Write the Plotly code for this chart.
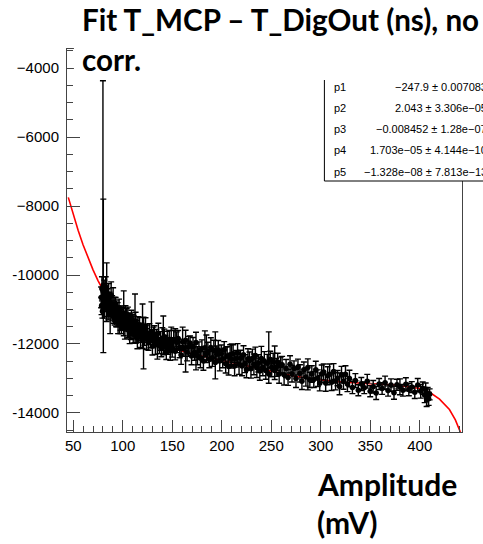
import plotly.graph_objects as go

# ---------------- data ----------------
amp = [
    78.2, 78.6, 79.0, 79.5, 80.0, 80.4, 80.8, 81.3, 81.8, 82.3,
    82.8, 83.3, 83.8, 84.3, 84.8, 85.3, 85.8, 86.3, 86.8, 87.3,
    87.8, 88.3, 88.8, 89.3, 89.8, 90.3, 90.8, 91.3, 91.8, 92.3,
    92.8, 93.3, 93.8, 94.3, 94.8, 95.3, 95.8, 96.3, 96.8, 97.3,
    97.8, 98.3, 98.8, 99.3, 99.8,
    100.4, 101.0, 101.6, 102.2, 102.8, 103.4, 104.0, 104.6, 105.2, 105.8,
    106.4, 107.0, 107.6, 108.2, 108.8, 109.4, 110.0, 110.6, 111.2, 111.8,
    112.4, 113.0, 113.6, 114.2, 114.8, 115.4, 116.0, 117.0, 118.0, 119.0,
    120.0, 121.0, 122.0, 123.0, 124.0, 125.0, 126.0, 127.0, 128.0, 129.0,
    130.0, 131.0, 132.0, 133.0, 134.0, 135.0, 136.0, 137.0, 138.0, 139.0,
    140.0, 141.0, 142.0, 143.0, 144.0, 145.0, 146.0, 147.0, 148.0, 149.0,
    150.0, 151.5, 153.0, 154.5, 156.0, 157.5, 159.0, 160.5, 162.0, 163.5,
    165.0, 166.5, 168.0, 169.5, 171.0, 172.5, 174.0, 175.5, 177.0, 178.5,
    180.0, 181.5, 183.0, 184.5, 186.0, 187.5, 189.0, 190.5, 192.0, 193.5,
    195.0, 196.5, 198.0, 199.5, 201.0, 202.5, 204.0, 205.5, 207.0, 208.5,
    210.0, 211.5, 213.0, 214.5, 216.0, 217.5, 219.0, 220.5, 222.0, 223.5,
    225.0, 226.5, 228.0, 229.5, 231.0, 232.5, 234.0, 235.5, 237.0, 238.5,
    240.0, 241.5, 243.0, 244.5, 246.0, 247.5, 249.0, 250.5, 252.0, 253.5,
    255.0, 256.5, 258.0, 259.5,
    261, 263, 265, 267, 269, 271, 273, 275, 277, 279,
    281, 283, 285, 287, 289, 291, 293, 295, 297, 299,
    301, 303, 305, 307, 309, 311, 313, 315, 317, 319,
    321, 323, 325, 327, 329,
    332, 335, 338, 341, 344, 347, 350, 353, 356, 359,
    362, 365, 368, 371, 374, 377, 380, 383, 386, 389,
    392, 395, 398, 401, 403, 405, 406, 407, 408, 409, 410,
]

dt = [
    -10650, -10900, -10400, -11050, -10450, -10300, -10750, -10550, -10950, -10600,
    -10350, -10800, -10500, -10900, -10700, -11050, -10650, -10950, -10800, -11150,
    -10850, -10600, -11000, -10900, -11100, -10850, -11150, -10950, -11200, -11000,
    -10850, -11250, -11050, -11300, -11100, -11350, -11150, -11000, -11400, -11200,
    -11300, -11100, -11450, -11250, -11350,
    -11180, -11460, -11270, -11560, -11170, -11410, -11290, -11570, -11160, -11510,
    -11400, -11710, -11310, -11530, -11280, -11630, -11440, -11720, -11420, -11560,
    -11720, -11330, -11680, -11540, -11830, -11450, -11690, -11450, -11800, -11650,
    -11900, -11570, -11760, -11480, -11860, -11700, -11960, -11680, -11880, -11640,
    -12060, -11810, -11710, -12020, -11800, -11940, -11690, -12050, -11910, -12130,
    -11830, -12060, -11790, -12010, -12210, -11910, -12070, -11860, -12200, -12000,
    -12100, -11870, -12210, -11950, -11840, -12130, -12320, -11940, -12120, -11890,
    -12230, -12080, -11970, -12350, -12090, -12240, -11960, -12340, -12200, -12410,
    -12130, -12490, -12110, -12290, -12210, -12450, -12100, -12400, -12190, -12540,
    -12300, -12170, -12490, -12280, -12430, -12170, -12570, -12350, -12650, -12310,
    -12440, -12280, -12640, -12430, -12260, -12590, -12410, -12640, -12310, -12570,
    -12740, -12430, -12480, -12720, -12410, -12590, -12330, -12690, -12560, -12780,
    -12420, -12680, -12500, -12770, -12560, -12870, -12450, -12680, -12520, -12770,
    -12680, -12520, -12870, -12620,
    -12600, -12890, -12710, -12970, -12590, -12860, -12710, -13000, -12670, -12850,
    -13080, -12750, -12960, -12680, -13040, -12870, -13030, -12750, -12990, -13140,
    -12860, -12810, -13130, -12920, -12880, -13110, -12800, -13080, -12990, -13230,
    -12890, -13080, -12880, -13160, -13000,
    -13260, -13060, -13340, -13160, -13270, -13080, -13370, -13240, -13420, -13160,
    -13290, -13120, -13350, -13190, -13410, -13180, -13240, -13340, -13170, -13320,
    -13250, -13400, -13190, -13370, -13280, -13480, -13320, -13610, -13440, -13590, -13460,
]

err_up = [
    300, 250, 350, 200, 6080, 2500, 250, 400, 300, 350,
    300, 250, 850, 300, 300, 250, 400, 200, 300, 550,
    300, 400, 250, 300, 200, 480, 250, 300, 250, 350,
    200, 250, 300, 200, 300, 350, 250, 300, 300, 250,
    300, 200, 250, 300, 250,
    250, 1000, 220, 300, 280, 200, 320, 260, 230, 300,
    240, 280, 210, 340, 260, 220, 300, 250, 230, 270,
    1170, 250, 290, 220, 310, 240, 260, 220, 300, 250,
    1060, 350, 280, 240, 300, 250, 220, 270, 230, 860,
    260, 300, 240, 280, 220, 250, 290, 230, 270, 240,
    300, 870, 220, 260, 240, 280, 230, 250, 270, 490,
    280, 260, 650, 300, 230, 270, 270, 430, 240, 290,
    260, 300, 200, 250, 280, 230, 300, 260, 260, 280,
    250, 270, 490, 550, 260, 240, 280, 250, 300, 890,
    240, 270, 290, 250, 260, 240, 480, 270, 250, 290,
    440, 260, 400, 240, 270, 290, 230, 280, 260, 260,
    240, 290, 250, 270, 260, 300, 240, 280, 250, 270,
    350, 240, 280, 250, 260, 1220, 240, 270, 250, 710,
    260, 250, 270, 240,
    240, 220, 260, 230, 250, 240, 220, 260, 230, 250,
    240, 230, 260, 250, 220, 240, 230, 250, 240, 220,
    250, 230, 240, 260, 300, 240, 230, 250, 220, 390,
    240, 230, 250, 220, 240,
    180, 200, 160, 190, 170, 200, 160, 180, 190, 160,
    170, 190, 160, 180, 190, 160, 230, 170, 190, 180,
    160, 180, 190, 200, 180, 220, 190, 200, 180, 190, 160,
]

err_dn = [
    300, 250, 350, 200, 400, 1950, 250, 400, 300, 350,
    300, 250, 850, 300, 300, 250, 400, 200, 300, 550,
    300, 400, 250, 300, 200, 480, 250, 300, 250, 350,
    200, 250, 300, 200, 300, 350, 250, 300, 300, 250,
    300, 200, 250, 300, 250,
    250, 300, 220, 300, 280, 200, 320, 260, 230, 300,
    240, 280, 210, 340, 260, 220, 300, 250, 230, 270,
    250, 250, 290, 220, 310, 240, 260, 220, 300, 250,
    230, 1150, 280, 240, 300, 250, 220, 270, 230, 260,
    260, 300, 240, 280, 220, 500, 290, 230, 270, 240,
    300, 250, 220, 260, 240, 280, 230, 250, 270, 240,
    280, 260, 250, 300, 230, 270, 270, 250, 240, 920,
    260, 280, 300, 250, 280, 230, 790, 260, 240, 280,
    250, 270, 260, 250, 260, 240, 280, 250, 300, 470,
    240, 270, 290, 250, 260, 240, 270, 270, 250, 290,
    260, 260, 280, 240, 270, 290, 230, 280, 260, 260,
    240, 290, 250, 270, 260, 300, 240, 280, 250, 270,
    250, 240, 280, 250, 260, 270, 240, 270, 250, 260,
    260, 250, 270, 240,
    240, 300, 260, 230, 250, 240, 220, 260, 230, 250,
    240, 230, 260, 650, 220, 240, 230, 250, 240, 220,
    250, 230, 240, 260, 230, 240, 230, 250, 220, 240,
    240, 230, 250, 220, 240,
    180, 200, 160, 190, 170, 200, 160, 180, 190, 160,
    170, 190, 160, 180, 190, 160, 230, 170, 190, 180,
    160, 180, 190, 200, 180, 220, 190, 200, 180, 190, 160,
]

# fit curve (pol5)
fit_x = [45, 50, 55, 60, 65, 70, 75, 80, 90, 100, 110, 120, 130, 150, 175,
         200, 225, 250, 275, 300, 325, 350, 375, 400, 410, 420, 430, 436, 441]
fit_y = [-7750, -8240, -8710, -9130, -9510, -9850, -10160, -10430, -10890, -11240,
         -11520, -11730, -11900, -12130, -12320, -12480, -12640, -12800, -12940,
         -13040, -13110, -13150, -13190, -13290, -13400, -13600, -13900, -14200, -14550]

# thin connecting line seen across the band
link_x = [140, 395]
link_y = [-11920, -13400]

x_ticks = [50, 100, 150, 200, 250, 300, 350, 400]
y_ticks = [-14000, -12000, -10000, -8000, -6000, -4000]
y_ticklabels = ["-14000", "-12000", "-10000", "\u22128000", "\u22126000", "\u22124000"]

par_names = ["p1", "p2", "p3", "p4", "p5"]
par_values = ["\u2212247.9 \u00b1 0.007083",
              "2.043 \u00b1 3.306e\u221205",
              "\u22120.008452 \u00b1 1.28e\u221207",
              "1.703e\u221205 \u00b1 4.144e\u221210",
              "\u22121.328e\u221208 \u00b1 7.813e\u221213"]

title_line1 = "Fit T_MCP \u2013 T_DigOut (ns), no"
title_line2 = "corr."
xlabel_line1 = "Amplitude"
xlabel_line2 = "(mV)"

# ---------------- layout geometry ----------------
W, H = 483, 544
L, R, T, B = 63, 21, 49, 112
PW, PH = W - L - R, H - T - B


def px(xp):
    return (xp - L) / PW


def py(yp):
    return (H - B - yp) / PH


fig = go.Figure()

fig.add_trace(go.Scatter(
    x=fit_x, y=fit_y, mode="lines",
    line=dict(color="#ff0000", width=1.6), showlegend=False))

fig.add_trace(go.Scatter(
    x=link_x, y=link_y, mode="lines",
    line=dict(color="#555555", width=1), hoverinfo="skip", showlegend=False))

fig.add_trace(go.Scatter(
    x=amp, y=dt, mode="markers",
    marker=dict(color="black", size=5.5),
    error_y=dict(type="data", symmetric=False, array=err_up, arrayminus=err_dn,
                 color="black", thickness=1.4, width=3),
    error_x=dict(type="constant", value=2.5, color="black", thickness=1.2, width=0),
    showlegend=False))

axis_common = dict(
    showgrid=False, zeroline=False, showline=True, linecolor="#444444", linewidth=1,
    mirror=True, ticks="inside", tickcolor="#444444", tickwidth=1,
    tickfont=dict(family="Liberation Sans, Arial, sans-serif", size=15, color="black"),
)

fig.update_layout(
    width=W, height=H,
    margin=dict(l=L, r=R, t=T, b=B, pad=0),
    paper_bgcolor="white", plot_bgcolor="white",
    xaxis=dict(range=[43.7, 442.7], tickvals=x_ticks, ticklen=12,
               minor=dict(dtick=10, ticklen=6, ticks="inside", tickcolor="#444444"),
               **axis_common),
    yaxis=dict(range=[-14551, -3449], tickvals=y_ticks, ticktext=y_ticklabels, ticklen=13,
               ticklabelstandoff=4,
               minor=dict(dtick=500, ticklen=6, ticks="inside", tickcolor="#444444"),
               **axis_common),
)

shapes = []
# stats box
shapes.append(dict(type="rect", xref="paper", yref="paper",
                   x0=px(323), x1=px(500), y0=py(181), y1=py(76),
                   fillcolor="white", line=dict(color="black", width=1), layer="above"))
# white title box
shapes.append(dict(type="rect", xref="paper", yref="paper",
                   x0=px(70), x1=px(500), y0=py(80), y1=py(-5),
                   fillcolor="white", line=dict(width=0), layer="above"))
fig.update_layout(shapes=shapes)

ann = []
row_y = [87, 108, 129, 150, 172]
for name, val, yy in zip(par_names, par_values, row_y):
    ann.append(dict(text=name, x=px(331), y=py(yy), xref="paper", yref="paper",
                    xanchor="left", yanchor="middle", showarrow=False,
                    font=dict(family="Liberation Sans, Arial", size=11, color="black")))
    ann.append(dict(text=val, x=px(489), y=py(yy), xref="paper", yref="paper",
                    xanchor="right", yanchor="middle", showarrow=False,
                    font=dict(family="Liberation Sans, Arial", size=11, color="black")))

tfont = dict(family="Lato, Open Sans, sans-serif", size=29.6, color="black", weight="bold")
afont = dict(family="Lato, Open Sans, sans-serif", size=30, color="black", weight="bold")
ann.append(dict(text="<b>%s</b>" % title_line1, x=px(76), y=py(20), xref="paper", yref="paper",
                xanchor="left", yanchor="middle", showarrow=False, font=tfont))
ann.append(dict(text="<b>%s</b>" % title_line2, x=px(76), y=py(59), xref="paper", yref="paper",
                xanchor="left", yanchor="middle", showarrow=False, font=tfont))
ann.append(dict(text="<b>%s</b>" % xlabel_line1, x=px(314), y=py(484), xref="paper", yref="paper",
                xanchor="left", yanchor="middle", showarrow=False, font=afont))
ann.append(dict(text="<b>%s</b>" % xlabel_line2, x=px(314), y=py(522), xref="paper", yref="paper",
                xanchor="left", yanchor="middle", showarrow=False, font=afont))
fig.update_layout(annotations=ann)

fig.write_html("out.html")
